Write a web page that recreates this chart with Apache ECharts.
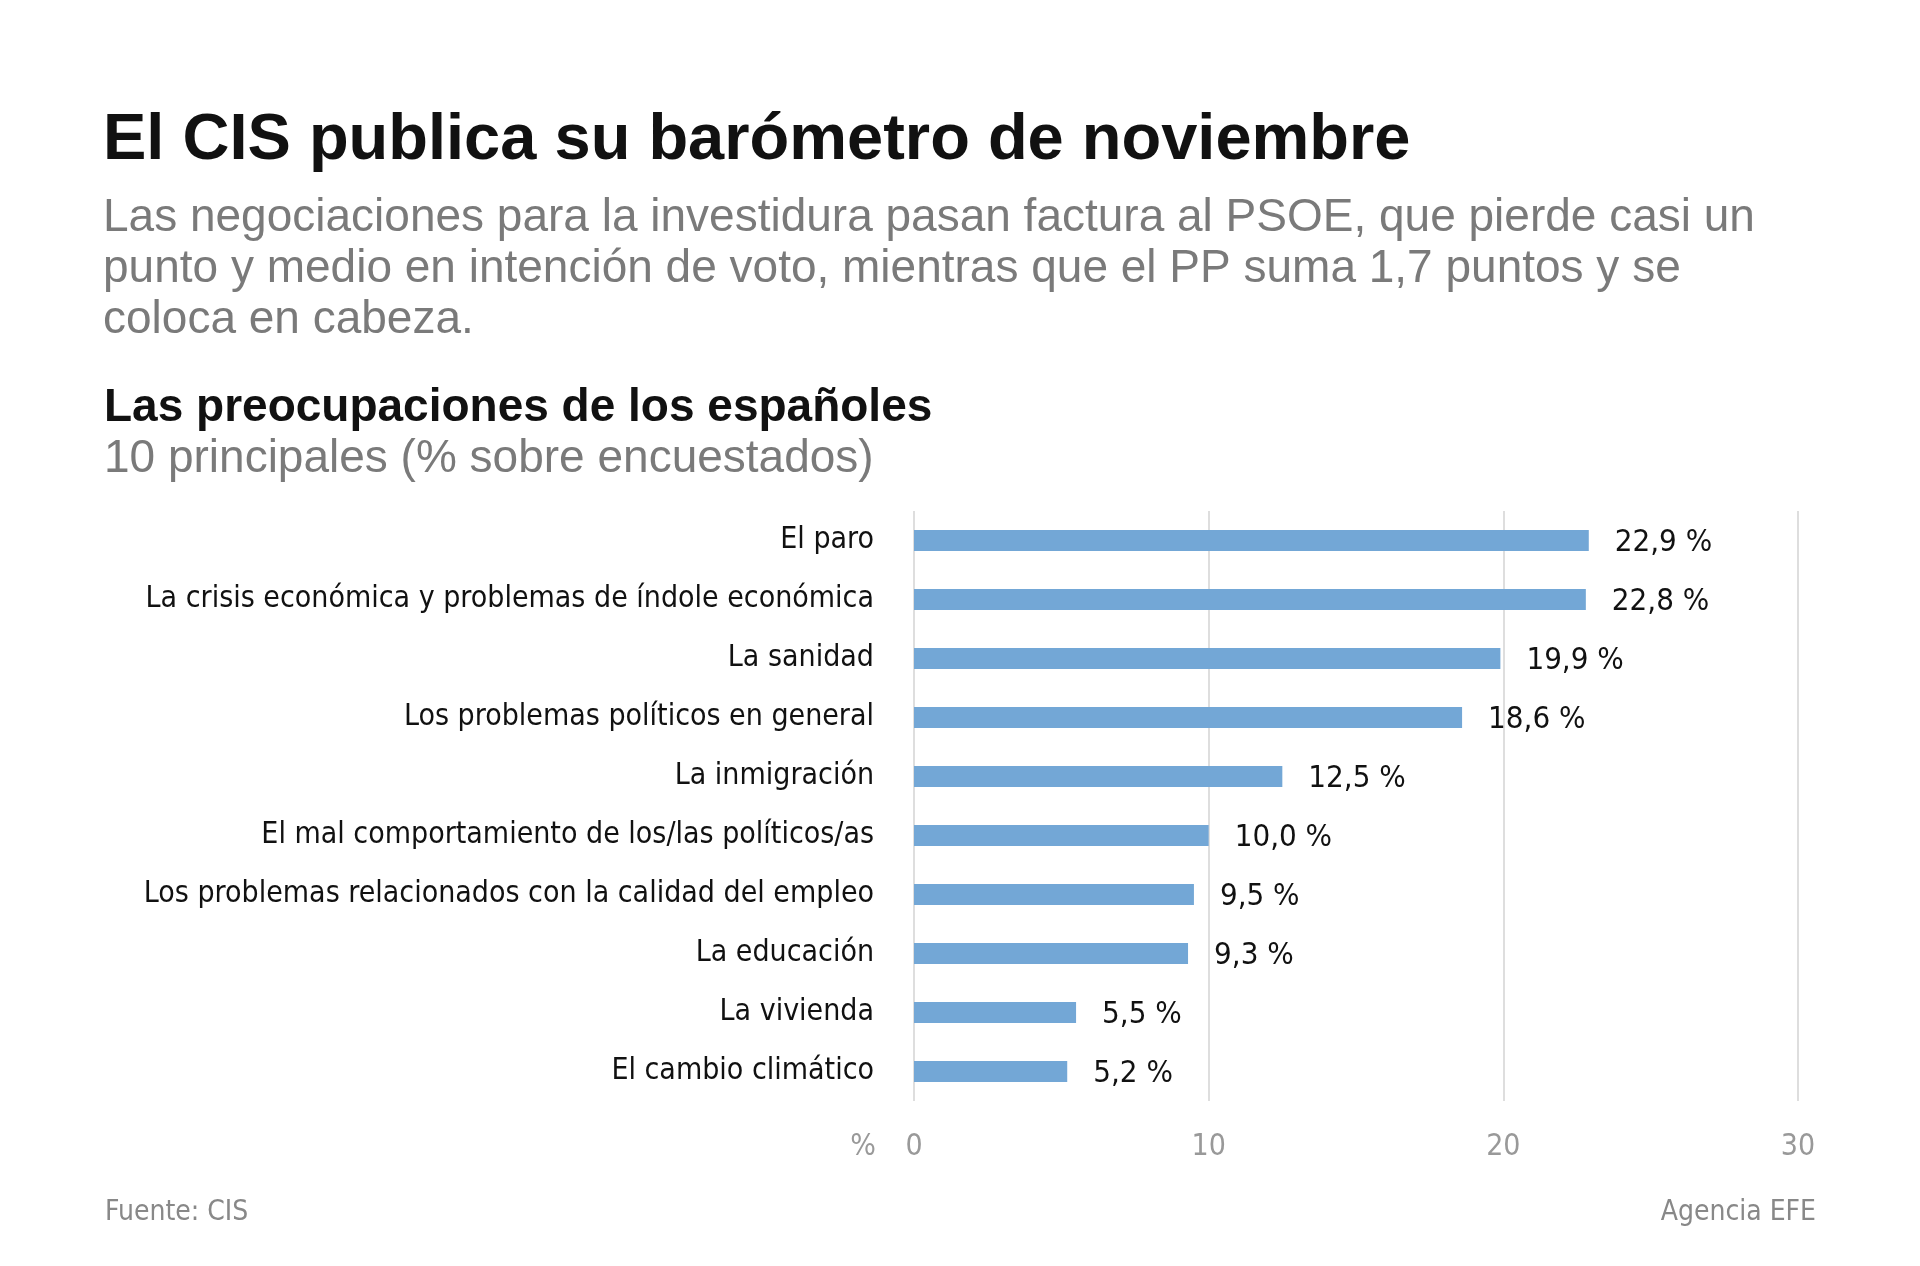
<!DOCTYPE html>
<html>
<head>
<meta charset="utf-8">
<script src="https://cdn.jsdelivr.net/npm/echarts@6/dist/echarts.min.js"></script>
<style>
html,body{margin:0;padding:0;background:#fff;}
#chart{width:1920px;height:1266px;}
</style>
</head>
<body>
<div id="chart"></div>
<script>
const categories = [
  "El paro",
  "La crisis económica y problemas de índole económica",
  "La sanidad",
  "Los problemas políticos en general",
  "La inmigración",
  "El mal comportamiento de los/las políticos/as",
  "Los problemas relacionados con la calidad del empleo",
  "La educación",
  "La vivienda",
  "El cambio climático"
];
const values = [22.9, 22.8, 19.9, 18.6, 12.5, 10.0, 9.5, 9.3, 5.5, 5.2];
const xTicks = [0, 10, 20, 30];

const titleText = "El CIS publica su barómetro de noviembre";
const subtitleText = "Las negociaciones para la investidura pasan factura al PSOE, que pierde casi un\npunto y medio en intención de voto, mientras que el PP suma 1,7 puntos y se\ncoloca en cabeza.";
const chartTitle = "Las preocupaciones de los españoles";
const chartSubtitle = "10 principales (% sobre encuestados)";
const sourceText = "Fuente: CIS";
const creditText = "Agencia EFE";

const NARROW = '"Liberation Sans Narrow", "Arial Narrow", "DejaVu Sans Condensed", sans-serif';
const SANS = '"Liberation Sans", Arial, sans-serif';

const chart = echarts.init(document.getElementById('chart'));
chart.setOption({
  backgroundColor: '#ffffff',
  animation: false,
  title: [
    {text: titleText, left: 98, top: 104, textStyle: {fontFamily: SANS, fontWeight: 'bold', fontSize: 65, color: '#111'}},
    {text: subtitleText, left: 98, top: 188, textStyle: {fontFamily: SANS, fontWeight: 'normal', fontSize: 46, lineHeight: 51, color: '#7a7a7a'}},
    {text: chartTitle, left: 99, top: 380, textStyle: {fontFamily: SANS, fontWeight: 'bold', fontSize: 46, color: '#111'}},
    {text: chartSubtitle, left: 99, top: 431, textStyle: {fontFamily: SANS, fontWeight: 'normal', fontSize: 46, color: '#7a7a7a'}},
    {text: sourceText, left: 100, top: 1194, textStyle: {fontFamily: NARROW, fontWeight: 'normal', fontSize: 28, color: '#888'}},
    {text: creditText, right: 99, top: 1194, textStyle: {fontFamily: NARROW, fontWeight: 'normal', fontSize: 28, color: '#888'}}
  ],
  grid: {left: 914, right: 122, top: 511, bottom: 165, containLabel: false},
  xAxis: {
    type: 'value', min: 0, max: 30, interval: 10,
    position: 'bottom',
    name: '%', nameLocation: 'start', nameGap: 38,
    nameTextStyle: {fontFamily: NARROW, fontSize: 30, color: '#999', verticalAlign: 'top', padding: [31, 0, 0, 0]},
    axisLine: {show: false}, axisTick: {show: false},
    axisLabel: {margin: 31, fontFamily: NARROW, fontSize: 30, color: '#999',
      formatter: v => xTicks.includes(v) ? String(v) : ''},
    splitLine: {show: true, lineStyle: {color: '#dedede', width: 2}}
  },
  yAxis: {
    type: 'category', data: categories, inverse: true,
    axisLine: {show: false}, axisTick: {show: false},
    axisLabel: {margin: 40, fontFamily: NARROW, fontSize: 30, color: '#111'},
    splitLine: {show: false}
  },
  series: [{
    type: 'bar', data: values, barWidth: 21,
    itemStyle: {color: '#73a7d6'},
    label: {show: true, position: 'right', distance: 26, fontFamily: NARROW, fontSize: 31, color: '#111',
      offset: [0, 2],
      formatter: p => p.value.toFixed(1).replace('.', ',') + ' %'}
  }]
});
</script>
</body>
</html>
